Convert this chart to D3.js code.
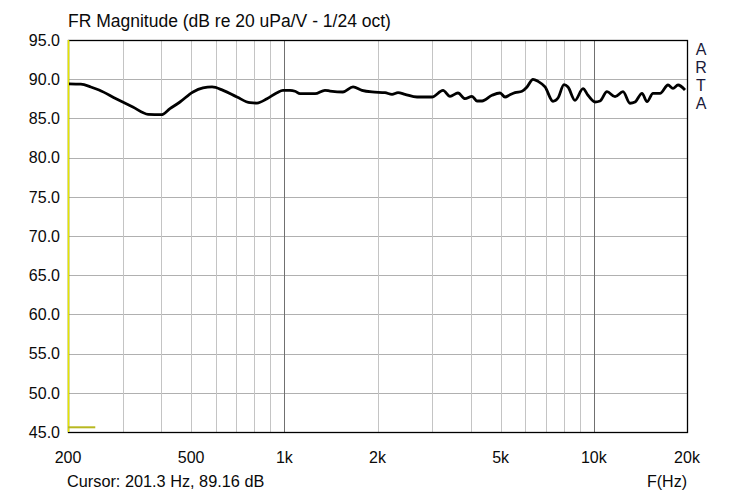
<!DOCTYPE html>
<html>
<head>
<meta charset="utf-8">
<script src="https://cdn.jsdelivr.net/npm/d3@7"></script>
<style>
  html, body { margin: 0; padding: 0; background: #ffffff; }
  svg { display: block; }
  text { font-family: "Liberation Sans", Arial, sans-serif; }
</style>
</head>
<body>
<svg id="chart" width="750" height="498"></svg>
<script>
// ---- data ----
const freqHz = [201.5, 220, 237, 252, 286, 324, 363, 400, 427, 460, 507, 546, 584, 634, 703, 775, 816, 879, 947, 990,
  1043, 1083, 1124, 1257, 1353, 1405, 1547, 1667, 1782, 1920, 2115, 2228, 2330, 2454, 2684, 3000, 3256, 3430, 3640, 3835,
  4040, 4193, 4353, 4688, 4976, 5164, 5360, 5564, 5860, 6082, 6359, 6602, 6956, 7379, 7660, 8010, 8252, 8693, 9226, 9576,
  10086, 10470, 11029, 11708, 12424, 13088, 13584, 14310, 14854, 15530, 16362, 17364, 18022, 18706, 19704];
const magnitudeDb = [89.40, 89.36, 89.01, 88.62, 87.51, 86.45, 85.52, 85.47, 86.24, 87.09, 88.37, 88.88, 89.01, 88.58, 87.73, 87.00, 86.96, 87.51, 88.28, 88.58,
  88.58, 88.46, 88.15, 88.15, 88.58, 88.49, 88.37, 89.01, 88.58, 88.37, 88.28, 88.07, 88.28, 88.07, 87.73, 87.73, 88.58, 87.82, 88.24, 87.51,
  87.82, 87.22, 87.22, 87.95, 88.24, 87.73, 88.02, 88.28, 88.46, 89.01, 89.99, 89.73, 89.01, 87.18, 87.60, 89.30, 89.01, 87.31, 88.79, 87.95,
  87.09, 87.22, 88.41, 87.77, 88.41, 86.93, 87.09, 88.20, 87.13, 88.20, 88.20, 89.26, 88.84, 89.26, 88.62];
const yTicks = [45, 50, 55, 60, 65, 70, 75, 80, 85, 90, 95];
const xGridMinor = [300, 400, 500, 600, 700, 800, 900, 2000, 3000, 4000, 5000, 6000, 7000, 8000, 9000];
const xGridMajor = [1000, 10000];
const xTickValues = [200, 500, 1000, 2000, 5000, 10000, 20000];
const xTickLabels = ["200", "500", "1k", "2k", "5k", "10k", "20k"];
const titleText = "FR Magnitude (dB re 20 uPa/V - 1/24 oct)";
const cursorText = "Cursor: 201.3 Hz, 89.16 dB";
const xAxisLabel = "F(Hz)";
const brandLetters = ["A", "R", "T", "A"];
const cursorMarker = [{f: 200, db: 45.6}, {f: 245, db: 45.6}];

// ---- layout ----
const pLeft = 68, pRight = 687, pTop = 40, pBottom = 432;
const svg = d3.select("#chart");
const x = d3.scaleLog().domain([200, 20000]).range([pLeft, pRight]);
const y = d3.scaleLinear().domain([45, 95]).range([pBottom, pTop]);

// horizontal grid
svg.append("g").selectAll("line").data(yTicks.slice(1, -1)).join("line")
  .attr("x1", pLeft).attr("x2", pRight)
  .attr("y1", d => Math.round(y(d)) + 0.5).attr("y2", d => Math.round(y(d)) + 0.5)
  .attr("stroke", "#b0b0b0").attr("stroke-width", 1);

// vertical grid
svg.append("g").selectAll("line").data(xGridMinor).join("line")
  .attr("x1", d => Math.round(x(d)) + 0.5).attr("x2", d => Math.round(x(d)) + 0.5)
  .attr("y1", pTop).attr("y2", pBottom)
  .attr("stroke", "#c4c4c4").attr("stroke-width", 1);
svg.append("g").selectAll("line").data(xGridMajor).join("line")
  .attr("x1", d => Math.round(x(d)) + 0.5).attr("x2", d => Math.round(x(d)) + 0.5)
  .attr("y1", pTop).attr("y2", pBottom)
  .attr("stroke", "#707070").attr("stroke-width", 1);

// frame
svg.append("rect").attr("x", pLeft + 0.5).attr("y", pTop + 0.5)
  .attr("width", pRight - pLeft).attr("height", pBottom - pTop)
  .attr("fill", "none").attr("stroke", "#000").attr("stroke-width", 1.3);
// yellow left edge
svg.append("line").attr("x1", pLeft + 0.5).attr("x2", pLeft + 0.5)
  .attr("y1", pTop).attr("y2", pBottom)
  .attr("stroke", "#e6e600").attr("stroke-width", 1.6);
// cursor marker
svg.append("path").datum(cursorMarker)
  .attr("d", d3.line().x(d => x(d.f)).y(d => y(d.db)))
  .attr("stroke", "#b8b820").attr("stroke-width", 2).attr("fill", "none");

// curve
const pts = freqHz.map((f, i) => ({f, db: magnitudeDb[i]}));
svg.append("path").datum(pts)
  .attr("d", d3.line().x(d => x(d.f)).y(d => y(d.db)).curve(d3.curveMonotoneX))
  .attr("fill", "none").attr("stroke", "#000").attr("stroke-width", 2.8)
  .attr("stroke-linejoin", "round");

// y axis labels
svg.append("g").selectAll("text").data(yTicks).join("text")
  .attr("x", 60).attr("y", d => y(d))
  .attr("dy", "0.36em").attr("text-anchor", "end")
  .attr("font-size", 16).attr("fill", "#0a0a0a")
  .text(d => d.toFixed(1));

// x axis labels
svg.append("g").selectAll("text").data(xTickValues).join("text")
  .attr("x", d => x(d)).attr("y", 457)
  .attr("dy", "0.36em").attr("text-anchor", "middle")
  .attr("font-size", 16).attr("fill", "#0a0a0a")
  .text((d, i) => xTickLabels[i]);

// title
svg.append("text").attr("x", 68).attr("y", 27)
  .attr("font-size", 17.5).attr("fill", "#0a0a0a").text(titleText);

// cursor text
svg.append("text").attr("x", 67).attr("y", 481).attr("dy", "0.36em")
  .attr("font-size", 16.3).attr("fill", "#0a0a0a").text(cursorText);

// axis label
svg.append("text").attr("x", 687).attr("y", 481).attr("dy", "0.36em")
  .attr("text-anchor", "end")
  .attr("font-size", 16).attr("fill", "#0a0a0a").text(xAxisLabel);

// ARTA
svg.append("g").selectAll("text").data(brandLetters).join("text")
  .attr("x", 701).attr("y", (d, i) => 49 + i * 18)
  .attr("dy", "0.36em").attr("text-anchor", "middle")
  .attr("font-size", 16).attr("fill", "#1a1a3a").text(d => d);
</script>
</body>
</html>
